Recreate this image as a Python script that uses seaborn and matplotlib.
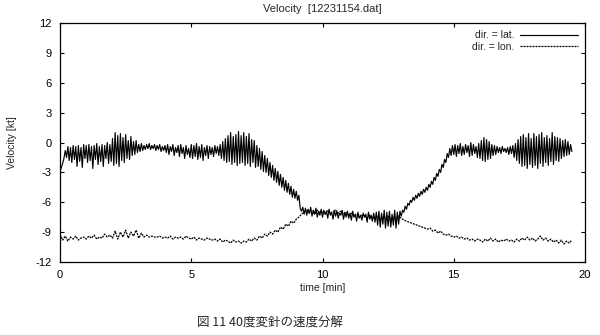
import numpy as np
import pandas as pd
import matplotlib
matplotlib.use("Agg")
import matplotlib.pyplot as plt
import seaborn as sns

# time axes in minutes
time_lat = [round(i * 0.05, 2) for i in range(391)]
time_lon = [round(i * 0.1, 1) for i in range(196)]

vel_lat = [
    -2.9, -2.5, -2.1, -1.6, -0.8, -1.5, -0.4, -1.8, -0.5, -2.0, -0.3, -1.7, -0.4, -2.4, -0.3, -1.9, -0.5, -2.5, -0.2, -1.6,
    -0.3, -2.0, -0.2, -1.8, -0.4, -2.6, -0.3, -1.7, -0.1, -2.2, -0.4, -1.9, -0.2, -2.4, -0.3, -1.6, 0.0, -2.1, -0.2, -1.9,
    0.4, -2.3, 1.0, -2.1, 0.7, -2.4, 0.9, -1.8, 0.5, -2.0, 0.8, -1.6, 0.2, -1.7, 0.6, -1.3, 0.1, -1.2, 0.2, -1.0,
    -0.2, -0.9, -0.1, -0.8, -0.3, -0.7, -0.2, -0.6, -0.1, -0.7, -0.3, -0.6, -0.2, -0.8, -0.3, -0.7, -0.2, -0.9, -0.4, -0.8,
    -0.3, -1.0, -0.2, -1.2, -0.4, -0.9, -0.2, -1.3, -0.5, -1.0, -0.3, -1.4, -0.2, -1.1, -0.5, -1.6, -0.3, -1.2, -0.6, -1.5,
    -0.2, -1.6, -0.3, -1.4, -0.1, -1.7, -0.4, -1.5, -0.2, -1.8, -0.5, -1.3, -0.3, -1.6, -0.4, -1.2, -0.5, -1.4, -0.3, -1.1,
    -0.4, -1.3, -0.2, -1.6, 0.1, -1.8, 0.4, -2.0, 0.7, -1.9, 1.0, -2.2, 0.6, -2.0, 0.8, -2.3, 1.1, -2.1, 0.7, -2.0,
    1.0, -2.3, 0.6, -2.1, 0.9, -2.4, 0.3, -2.0, 0.2, -2.5, -0.3, -2.4, -0.6, -2.7, -0.9, -2.9, -1.3, -3.0, -1.6, -3.3,
    -2.0, -3.5, -2.3, -3.8, -2.6, -4.0, -2.9, -4.3, -3.2, -4.5, -3.5, -4.8, -3.8, -5.0, -4.1, -5.2, -4.4, -5.5, -4.7, -5.6,
    -4.9, -5.8, -5.3, -6.6, -6.9, -6.5, -7.2, -6.6, -7.3, -6.7, -7.1, -6.5, -7.4, -6.8, -7.2, -6.6, -7.5, -6.9, -7.3, -6.7,
    -7.5, -6.8, -7.2, -6.9, -7.6, -6.7, -7.3, -7.0, -7.7, -6.8, -7.4, -6.9, -7.6, -7.1, -7.3, -6.8, -7.7, -7.0, -7.5, -6.9,
    -7.6, -7.1, -7.8, -6.9, -7.5, -7.2, -7.9, -7.0, -7.6, -7.3, -7.8, -7.1, -7.5, -7.2, -8.0, -7.0, -7.7, -7.3, -7.9, -7.1,
    -8.0, -7.0, -8.3, -6.9, -8.5, -7.1, -8.2, -6.8, -8.6, -7.0, -8.4, -6.9, -8.5, -7.2, -8.3, -6.8, -8.6, -7.0, -8.2, -6.9,
    -7.4, -6.8, -7.0, -6.4, -6.7, -6.1, -6.3, -5.8, -6.0, -5.5, -5.8, -5.3, -5.6, -5.1, -5.4, -4.9, -5.2, -4.7, -5.0, -4.5,
    -4.8, -4.2, -4.5, -3.9, -4.2, -3.5, -3.8, -3.1, -3.4, -2.7, -3.0, -2.2, -2.5, -1.7, -2.0, -1.1, -1.5, -0.6, -1.3, -0.3,
    -1.2, -0.2, -1.4, -0.3, -1.1, -0.1, -1.3, -0.4, -1.2, -0.2, -1.0, -0.3, -1.4, 0.0, -1.3, -0.2, -1.1, -0.4, -1.5, -0.1,
    -1.6, 0.2, -1.8, 0.5, -1.9, 0.3, -1.7, 0.1, -1.6, -0.2, -1.3, -0.3, -1.2, -0.4, -1.0, -0.5, -1.1, -0.4, -0.9, -0.6,
    -1.0, -0.5, -1.2, -0.4, -1.1, -0.3, -1.5, -0.1, -1.8, 0.3, -2.1, 0.6, -2.4, 0.8, -2.3, 0.5, -2.6, 0.9, -2.2, 0.4,
    -2.5, 0.9, -2.3, 0.6, -2.6, 0.8, -2.1, 1.0, -2.4, 0.5, -2.0, 0.7, -2.3, 0.4, -1.9, 1.0, -2.2, 0.6, -1.8, 0.5,
    -1.9, 0.4, -1.6, 0.2, -1.4, 0.3, -1.3, 0.1, -1.2, -0.2, -0.9,
]

vel_lon = [
    -9.2, -9.8, -9.4, -9.9, -9.5, -9.7, -9.4, -9.8, -9.6, -9.5,
    -9.7, -9.4, -9.6, -9.3, -9.7, -9.5, -9.6, -9.2, -9.5, -9.3,
    -9.6, -8.9, -9.7, -9.0, -9.5, -8.8, -9.6, -9.0, -9.4, -8.8,
    -9.6, -9.1, -9.5, -9.3, -9.5, -9.4, -9.5, -9.5, -9.4, -9.6,
    -9.5, -9.6, -9.4, -9.7, -9.5, -9.6, -9.5, -9.7, -9.4, -9.6,
    -9.7, -9.5, -9.8, -9.6, -9.7, -9.8, -9.6, -9.7, -9.8, -9.7,
    -9.9, -9.7, -10.0, -9.8, -9.9, -10.1, -9.8, -10.0, -9.9, -10.1,
    -9.9, -10.0, -9.7, -9.9, -9.6, -9.8, -9.4, -9.6, -9.2, -9.4,
    -9.0, -9.2, -8.8, -9.0, -8.5, -8.7, -8.2, -8.4, -7.9, -8.1,
    -7.7, -7.5, -7.2, -7.0, -6.8, -7.1, -6.9, -7.2, -6.8, -7.1,
    -6.9, -7.2, -6.8, -7.1, -7.0, -6.8, -7.1, -6.9, -7.2, -7.0,
    -7.3, -7.1, -7.4, -7.2, -7.5, -7.3, -7.4, -7.6, -7.3, -7.5,
    -7.6, -7.4, -7.7, -7.5, -7.6, -7.4, -7.7, -7.5, -7.6, -7.4,
    -7.6, -7.8, -7.9, -8.0, -8.1, -8.2, -8.3, -8.4, -8.5, -8.6,
    -8.7, -8.6, -8.9, -8.8, -9.1, -8.9, -9.2, -9.3, -9.2, -9.4,
    -9.5, -9.4, -9.6, -9.5, -9.7, -9.6, -9.8, -9.7, -9.9, -9.7,
    -9.8, -10.0, -9.7, -9.9, -9.6, -9.9, -9.7, -10.0, -9.8, -9.9,
    -9.7, -9.9, -9.8, -10.0, -9.7, -9.9, -9.6, -9.8, -9.5, -9.8,
    -9.6, -9.9, -9.7, -9.4, -9.8, -9.6, -9.9, -9.7, -10.0, -9.8,
    -10.1, -9.8, -10.2, -9.9, -10.1, -9.8,
]

series_labels = ["dir. = lat.", "dir. = lon."]
x_ticks = [0, 5, 10, 15, 20]
y_ticks = [-12, -9, -6, -3, 0, 3, 6, 9, 12]

sns.set_theme(style="ticks")
plt.rcParams["font.family"] = ["Liberation Sans", "Noto Sans CJK JP", "DejaVu Sans"]

fig = plt.figure(figsize=(6.0, 3.35), dpi=100)
ax = fig.add_axes([0.1, 0.218, 0.875, 0.713])

df_lat = pd.DataFrame({"time": time_lat, "v": vel_lat})
df_lon = pd.DataFrame({"time": time_lon, "v": vel_lon})

sns.lineplot(data=df_lat, x="time", y="v", ax=ax, color="black", lw=0.85,
             label=series_labels[0])
sns.lineplot(data=df_lon, x="time", y="v", ax=ax, color="black", lw=0.9,
             linestyle=(0, (1.6, 0.8)), label=series_labels[1])

ax.set_xlim(0, 20)
ax.set_ylim(-12, 12)
ax.set_xticks(x_ticks)
ax.set_yticks(y_ticks)
ax.set_xticklabels([str(t) for t in x_ticks], fontsize=8)
ax.set_yticklabels([str(t) for t in y_ticks], fontsize=8)
ax.tick_params(direction="in", top=True, right=True, length=3, width=0.8,
               colors="black", pad=6)
for s in ax.spines.values():
    s.set_color("black")
    s.set_linewidth(0.9)

ax.set_xlabel("time [min]", fontsize=7.5, labelpad=2)
ax.set_ylabel("Velocity [kt]", fontsize=7.5, labelpad=13)
ax.set_title("Velocity  [12231154.dat]", fontsize=8, pad=8)

leg = ax.legend(loc="upper right", frameon=False, fontsize=7.5, markerfirst=False,
                handlelength=5.5, handletextpad=0.6, borderaxespad=0.3,
                labelspacing=0.15)

fig.text(0.45, 0.035, "図 11 40度変針の速度分解", ha="center", va="center",
         fontsize=9, family=["Noto Sans CJK JP", "DejaVu Sans"])

fig.savefig("out.png", dpi=100, facecolor="white")
